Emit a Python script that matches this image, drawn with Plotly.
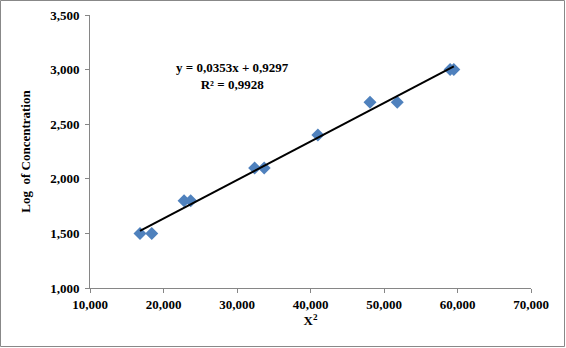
import plotly.graph_objects as go
import numpy as np

# Data (x = X^2 in thousands, displayed with comma decimals)
x_vals = [16.8, 18.4, 22.8, 23.7, 32.4, 33.7, 41.0, 48.1, 51.8, 59.0, 59.5]
y_vals = [1.5, 1.5, 1.8, 1.8, 2.1, 2.1, 2.4, 2.7, 2.7, 3.0, 3.0]
slope = 0.0353
intercept = 0.9297
eq_text = "y = 0,0353x + 0,9297<br>R² = 0,9928"

W, H = 566, 348
ml, mr, mt, mb = 90, 35, 15, 60
pw, ph = W - ml - mr, H - mt - mb

xs = np.array([min(x_vals), max(x_vals)])
ys = slope * xs + intercept

font_family = "Liberation Serif, Times New Roman, serif"

fig = go.Figure()
fig.add_trace(go.Scatter(
    x=x_vals, y=y_vals, mode="markers",
    marker=dict(symbol="diamond", size=10, color="#4F81BD"),
    showlegend=False, hoverinfo="skip"))
fig.add_trace(go.Scatter(
    x=xs.tolist(), y=ys.tolist(), mode="lines",
    line=dict(color="black", width=2),
    showlegend=False, hoverinfo="skip"))

fig.add_annotation(
    xref="paper", yref="paper",
    x=(232 - ml) / pw, y=1 - (76 - mt) / ph,
    xanchor="center", yanchor="middle", showarrow=False,
    text=eq_text,
    font=dict(family=font_family, size=13, color="black", weight="bold"),
    align="center")

# chart border
fig.add_shape(type="rect", xref="paper", yref="paper",
              x0=(-ml + 0.5) / pw, x1=(pw + mr - 1.5) / pw,
              y0=(-mb + 1.5) / ph, y1=(ph + mt - 0.5) / ph,
              line=dict(color="#888888", width=1))

fig.update_layout(
    width=W, height=H,
    margin=dict(l=ml, r=mr, t=mt, b=mb, autoexpand=False),
    paper_bgcolor="white", plot_bgcolor="white",
    separators=",.",
    font=dict(family=font_family, color="black"),
    xaxis=dict(range=[10, 70], tickvals=[10, 20, 30, 40, 50, 60, 70],
               tickformat=".3f", showgrid=False, zeroline=False,
               showline=True, linecolor="#868686", linewidth=1,
               ticks="outside", ticklen=4, tickcolor="#868686",
               automargin=False,
               tickfont=dict(size=13, weight="bold"),
               title=dict(text="X<sup>2</sup>", standoff=4,
                          font=dict(size=13, weight="bold"))),
    yaxis=dict(range=[1.0, 3.5], tickvals=[1.0, 1.5, 2.0, 2.5, 3.0, 3.5],
               tickformat=".3f", showgrid=False, zeroline=False,
               showline=True, linecolor="#868686", linewidth=1,
               ticks="outside", ticklen=4, tickcolor="#868686",
               ticklabelstandoff=3,
               automargin=False,
               tickfont=dict(size=13, weight="bold"),
               title=dict(text="Log  of Concentration", standoff=16,
                          font=dict(size=13, weight="bold"))),
)

fig.write_html("out.html",
               config={"displayModeBar": False, "staticPlot": True},
               post_script="document.body.style.margin='0';document.body.style.padding='0';")
